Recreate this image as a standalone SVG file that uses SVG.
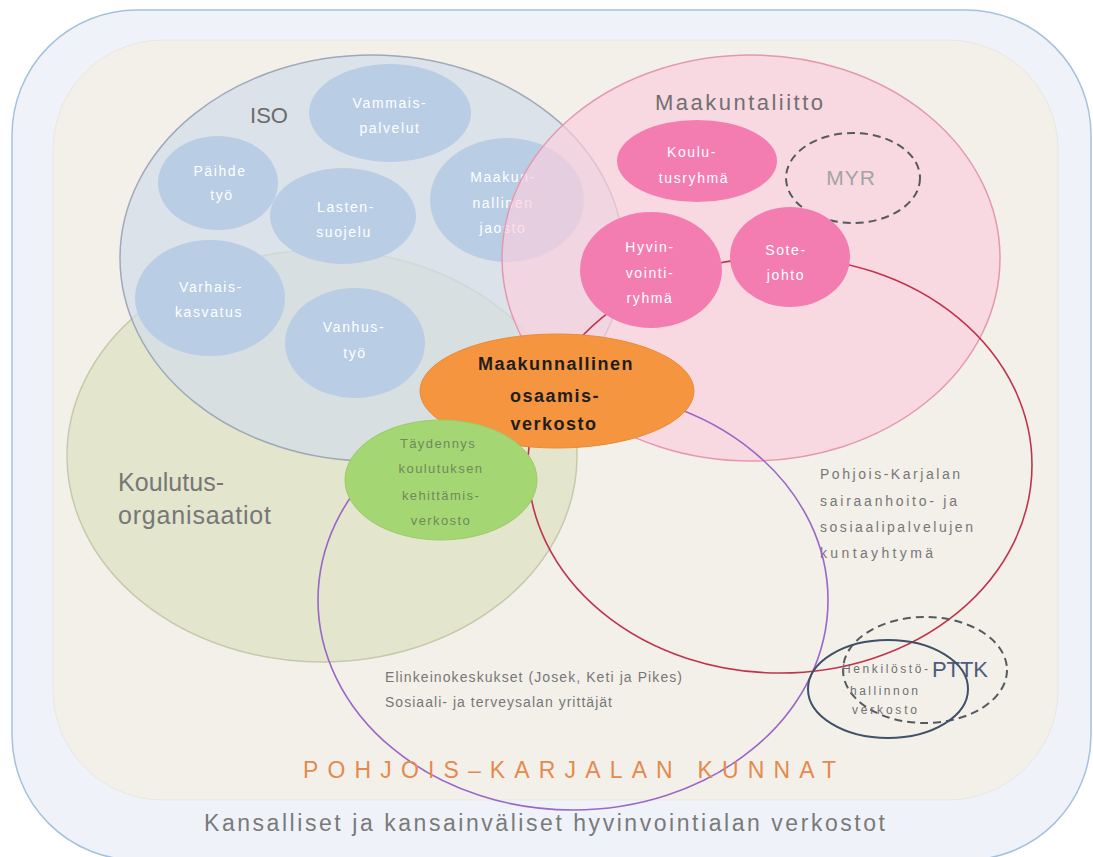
<svg xmlns="http://www.w3.org/2000/svg" width="1093" height="857" viewBox="0 0 1093 857">
<style>
text{font-family:"Liberation Sans","DejaVu Sans",sans-serif}
.small-blue{fill:#b9cde5}
.small-pink{fill:#f37db1}
.wt{fill:#ffffff;font-size:14px;text-anchor:middle;letter-spacing:1.6px}
.gt{fill:#6f8a58;font-size:13px;text-anchor:middle;letter-spacing:1.4px}
.lbl{fill:#777777}
.dash{fill:none;stroke:#555a60;stroke-width:2;stroke-dasharray:8 5}
</style>
<rect id="outer" x="12" y="10" width="1079" height="850" rx="125" ry="125" fill="#eff3f9" stroke="#a5c1dd" stroke-width="1.5"/>
<rect id="inner" x="53" y="40" width="1005" height="760" rx="110" ry="110" fill="#f3f0ea" stroke="#ebe7e0" stroke-width="1"/>

<g id="koulutus">
<ellipse cx="322" cy="456" rx="255" ry="206" fill="#dde1c2" fill-opacity="0.72" stroke="#c5cbaa" stroke-width="1.5"/>
<text class="lbl" x="118" y="491" font-size="25" textLength="106" lengthAdjust="spacing">Koulutus-</text>
<text class="lbl" x="118" y="524" font-size="25" textLength="153" lengthAdjust="spacing">organisaatiot</text>
</g>

<g id="iso">
<ellipse cx="372" cy="258" rx="252" ry="203" fill="#d3dde9" fill-opacity="0.72" stroke="#9ea9b8" stroke-width="1.5"/>
<text x="269" y="123" font-size="22" fill="#6b6b6b" text-anchor="middle">ISO</text>
</g>

<g id="vammaispalvelut">
<ellipse class="small-blue" cx="390" cy="113" rx="81" ry="49"/>
<text class="wt" x="390" y="108">Vammais-</text>
<text class="wt" x="390" y="133">palvelut</text>
</g>
<g id="paihdetyo">
<ellipse class="small-blue" cx="218" cy="183" rx="60" ry="47"/>
<text class="wt" x="220" y="176">Päihde</text>
<text class="wt" x="222" y="200">työ</text>
</g>
<g id="lastensuojelu">
<ellipse class="small-blue" cx="343" cy="216" rx="73" ry="48"/>
<text class="wt" x="346" y="212">Lasten-</text>
<text class="wt" x="344" y="237">suojelu</text>
</g>
<g id="jaosto">
<ellipse class="small-blue" cx="507" cy="200" rx="77" ry="62"/>
<text class="wt" x="503" y="182">Maakun-</text>
<text class="wt" x="503" y="208">nallinen</text>
<text class="wt" x="503" y="233">jaosto</text>
</g>
<g id="varhaiskasvatus">
<ellipse class="small-blue" cx="210" cy="298" rx="75" ry="58"/>
<text class="wt" x="211" y="292">Varhais-</text>
<text class="wt" x="209" y="317">kasvatus</text>
</g>
<g id="vanhustyo">
<ellipse class="small-blue" cx="355" cy="343" rx="70" ry="55"/>
<text class="wt" x="354" y="332">Vanhus-</text>
<text class="wt" x="355" y="358">työ</text>
</g>

<g id="maakuntaliitto">
<ellipse cx="751" cy="258" rx="249" ry="203" fill="#facedd" fill-opacity="0.68" stroke="#e497b1" stroke-width="1.5"/>
<text x="655" y="110" font-size="22" fill="#707070" textLength="168" lengthAdjust="spacing">Maakuntaliitto</text>
</g>

<g id="kuntayhtyma">
<ellipse cx="780" cy="465" rx="252" ry="208" fill="none" stroke="#c0334d" stroke-width="1.6"/>
<text class="lbl" x="820" y="479" font-size="14" textLength="140" lengthAdjust="spacing">Pohjois-Karjalan</text>
<text class="lbl" x="820" y="506" font-size="14" textLength="137" lengthAdjust="spacing">sairaanhoito- ja</text>
<text class="lbl" x="820" y="532" font-size="14" textLength="153" lengthAdjust="spacing">sosiaalipalvelujen</text>
<text class="lbl" x="820" y="558" font-size="14" textLength="113" lengthAdjust="spacing">kuntayhtymä</text>
</g>

<g id="elinkeino">
<ellipse cx="573" cy="600" rx="255" ry="210" fill="none" stroke="#9a66c8" stroke-width="1.6"/>
<text class="lbl" x="385" y="682" font-size="14" textLength="297" lengthAdjust="spacing">Elinkeinokeskukset (Josek, Keti ja Pikes)</text>
<text class="lbl" x="385" y="707" font-size="14" textLength="227" lengthAdjust="spacing">Sosiaali- ja terveysalan yrittäjät</text>
</g>

<g id="koulutusryhma">
<ellipse class="small-pink" cx="697" cy="161" rx="80" ry="41"/>
<text class="wt" x="692" y="157">Koulu-</text>
<text class="wt" x="694" y="183">tusryhmä</text>
</g>
<g id="myr">
<ellipse class="dash" cx="853" cy="178" rx="67" ry="45"/>
<text x="851" y="185" font-size="21" fill="#a3a3a3" text-anchor="middle" letter-spacing="1">MYR</text>
</g>
<g id="hyvinvointiryhma">
<ellipse class="small-pink" cx="651" cy="270" rx="71" ry="58"/>
<text class="wt" x="650" y="252">Hyvin-</text>
<text class="wt" x="650" y="278">vointi-</text>
<text class="wt" x="650" y="303">ryhmä</text>
</g>
<g id="sotejohto">
<ellipse class="small-pink" cx="790" cy="257" rx="60" ry="50"/>
<text class="wt" x="786" y="255">Sote-</text>
<text class="wt" x="786" y="280">johto</text>
</g>

<g id="osaamisverkosto">
<ellipse cx="557" cy="391" rx="137" ry="57" fill="#f5953f" stroke="#ec8a37" stroke-width="1"/>
<text x="556" y="370" font-size="18" font-weight="bold" fill="#1e1e1e" text-anchor="middle" letter-spacing="1.5">Maakunnallinen</text>
<text x="555" y="402" font-size="18" font-weight="bold" fill="#1e1e1e" text-anchor="middle" letter-spacing="1.5">osaamis-</text>
<text x="554" y="430" font-size="18" font-weight="bold" fill="#1e1e1e" text-anchor="middle" letter-spacing="1.5">verkosto</text>
</g>

<g id="taydennyskoulutus">
<ellipse cx="441" cy="480" rx="96" ry="60" fill="#a5d674" stroke="#9ccb6a" stroke-width="1"/>
<text class="gt" x="438" y="448">Täydennys</text>
<text class="gt" x="441" y="473">koulutuksen</text>
<text class="gt" x="441" y="500">kehittämis-</text>
<text class="gt" x="441" y="525">verkosto</text>
</g>

<g id="pttk">
<ellipse class="dash" cx="925" cy="670" rx="82" ry="53"/>
<text x="932" y="677" font-size="22" fill="#4d5b7c" textLength="56" lengthAdjust="spacing">PTTK</text>
</g>
<g id="henkilostohallinto">
<ellipse cx="888" cy="689" rx="80" ry="49" fill="none" stroke="#3f5166" stroke-width="2"/>
<text x="842" y="673" font-size="12" fill="#707070" textLength="86" lengthAdjust="spacing">Henkilöstö-</text>
<text x="850" y="695" font-size="12" fill="#707070" textLength="68" lengthAdjust="spacing">hallinnon</text>
<text x="852" y="714" font-size="12" fill="#707070" textLength="65" lengthAdjust="spacing">verkosto</text>
</g>

<g id="connectors"></g>

<g id="kunnat">
<text x="303" y="778" font-size="23" fill="#e58a4e" textLength="533" lengthAdjust="spacing">POHJOIS–KARJALAN KUNNAT</text>
</g>
<g id="kansalliset">
<text x="204" y="831" font-size="23" fill="#7a7a7a" textLength="681" lengthAdjust="spacing">Kansalliset ja kansainväliset hyvinvointialan verkostot</text>
</g>
</svg>
